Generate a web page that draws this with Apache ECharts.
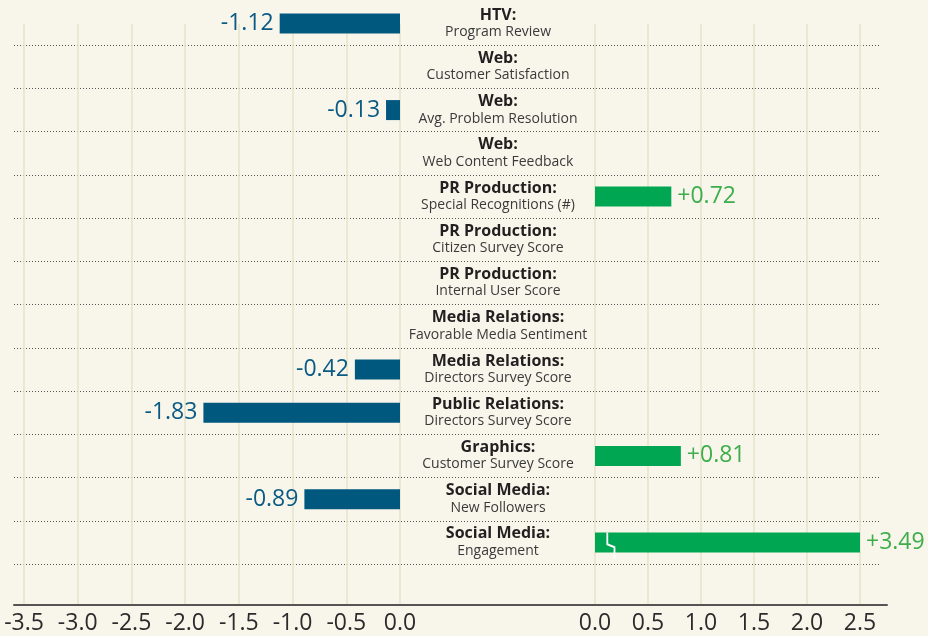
<!DOCTYPE html>
<html>
<head>
<meta charset="utf-8">
<script src="https://cdn.jsdelivr.net/npm/echarts@6/dist/echarts.min.js"></script>
<style>
  html, body { margin: 0; padding: 0; background: #f8f6eb; }
  #chart { width: 928px; height: 636px; }
</style>
</head>
<body>
<div id="chart"></div>
<script>
// row labels: group (bold) + metric
const groups = ['HTV', 'Web', 'Web', 'Web', 'PR Production', 'PR Production', 'PR Production',
  'Media Relations', 'Media Relations', 'Public Relations', 'Graphics', 'Social Media', 'Social Media'];
const metrics = ['Program Review', 'Customer Satisfaction', 'Avg. Problem Resolution', 'Web Content Feedback',
  'Special Recognitions (#)', 'Citizen Survey Score', 'Internal User Score', 'Favorable Media Sentiment',
  'Directors Survey Score', 'Directors Survey Score', 'Customer Survey Score', 'New Followers', 'Engagement'];
const values = [-1.12, null, -0.13, null, 0.72, null, null, null, -0.42, -1.83, 0.81, -0.89, 3.49];

const leftTicks = [-3.5, -3.0, -2.5, -2.0, -1.5, -1.0, -0.5, 0.0];
const rightTicks = [0.0, 0.5, 1.0, 1.5, 2.0, 2.5];

const categories = groups.map((g, i) => g + ': ' + metrics[i]);
const rightMax = rightTicks[rightTicks.length - 1];
const leftData = values.map(v => (v !== null && v < 0) ? v : null);
// bars past the right axis are cut at its end and get a break mark
const rightData = values.map(v => (v !== null && v > 0) ? Math.min(v, rightMax) : null);
const brokenIdx = values.findIndex(v => v !== null && v > rightMax);

const FONT = 'Open Sans';
const BLUE = '#00587f';
const GREEN = '#00a651';

const chart = echarts.init(document.getElementById('chart'));

const frameAxis = (idx, ticks) => ({
  gridIndex: idx,
  type: 'value',
  min: ticks[0],
  max: ticks[ticks.length - 1],
  interval: 0.5,
  axisLine: { show: false },
  axisTick: { show: false },
  splitLine: { show: true, lineStyle: { color: '#e7e3c8', width: 1.5 } },
  axisLabel: {
    margin: 7,
    fontFamily: FONT,
    fontSize: 23,
    color: '#2b2b2b',
    formatter: v => v.toFixed(1)
  }
});

chart.setOption({
  backgroundColor: '#f8f6eb',
  animation: false,
  grid: [
    { left: 14, width: 866, top: 2, height: 562 },   // row dividers
    { left: 24, width: 376, top: 2, height: 562 },   // negative bars
    { left: 595, width: 265, top: 2, height: 562 },  // positive bars
    { left: 24, width: 376, top: 24, height: 581 },  // left scale
    { left: 595, width: 265, top: 24, height: 581 }, // right scale
    { left: 14, width: 873, top: 24, height: 581 }   // base line
  ],
  xAxis: [
    { gridIndex: 0, type: 'value', show: false },
    { gridIndex: 1, type: 'value', min: leftTicks[0], max: 0, show: false },
    { gridIndex: 2, type: 'value', min: 0, max: rightMax, show: false },
    frameAxis(3, leftTicks),
    frameAxis(4, rightTicks),
    {
      gridIndex: 5, type: 'value',
      axisLine: { show: true, lineStyle: { color: '#555', width: 2 } },
      axisTick: { show: false }, axisLabel: { show: false }, splitLine: { show: false }
    }
  ],
  yAxis: [
    {
      gridIndex: 0, type: 'category', inverse: true, data: categories,
      axisLine: { show: false }, axisTick: { show: false }, axisLabel: { show: false },
      splitLine: { show: true, interval: 0, showMinLine: false, lineStyle: { color: '#555', width: 1, type: [1, 2] } }
    },
    {
      gridIndex: 1, type: 'category', inverse: true, data: categories, position: 'right',
      axisLine: { show: false }, axisTick: { show: false }, splitLine: { show: false },
      axisLabel: {
        interval: 0,
        margin: 98,
        align: 'center',
        fontFamily: FONT,
        formatter: (v, i) => '{b|' + groups[i] + ':}\n{n|' + metrics[i] + '}',
        rich: {
          b: { fontFamily: FONT, fontSize: 16, fontWeight: 'bold', color: '#231f20', lineHeight: 17, align: 'center' },
          n: { fontFamily: FONT, fontSize: 14, color: '#3a3a3a', lineHeight: 17, align: 'center' }
        }
      }
    },
    { gridIndex: 2, type: 'category', inverse: true, data: categories, show: false },
    { gridIndex: 3, type: 'value', show: false },
    { gridIndex: 4, type: 'value', show: false },
    { gridIndex: 5, type: 'value', show: false }
  ],
  series: [
    {
      type: 'bar',
      xAxisIndex: 1, yAxisIndex: 1,
      data: leftData,
      barWidth: 20,
      itemStyle: { color: BLUE },
      label: {
        show: true, position: 'left', distance: 6,
        fontFamily: FONT, fontSize: 23, color: '#0b5a84',
        formatter: p => p.value.toFixed(2)
      }
    },
    {
      type: 'bar',
      xAxisIndex: 2, yAxisIndex: 2,
      data: rightData,
      barWidth: 20,
      itemStyle: { color: GREEN },
      label: {
        show: true, position: 'right', distance: 6,
        fontFamily: FONT, fontSize: 23, color: '#3dae4b',
        formatter: p => '+' + values[p.dataIndex].toFixed(2)
      },
      markPoint: brokenIdx < 0 ? undefined : {
        silent: true,
        data: [{
          coord: [0.15, categories[brokenIdx]],
          symbol: 'path://M0,0 L2,0 L2,11 L10,14 L10,26 L8,26 L8,15.5 L0,12.5 Z',
          symbolSize: [9, 26],
          symbolOffset: [0, 3],
          itemStyle: { color: '#ffffff' },
          label: { show: false }
        }]
      }
    }
  ]
});
</script>
</body>
</html>
